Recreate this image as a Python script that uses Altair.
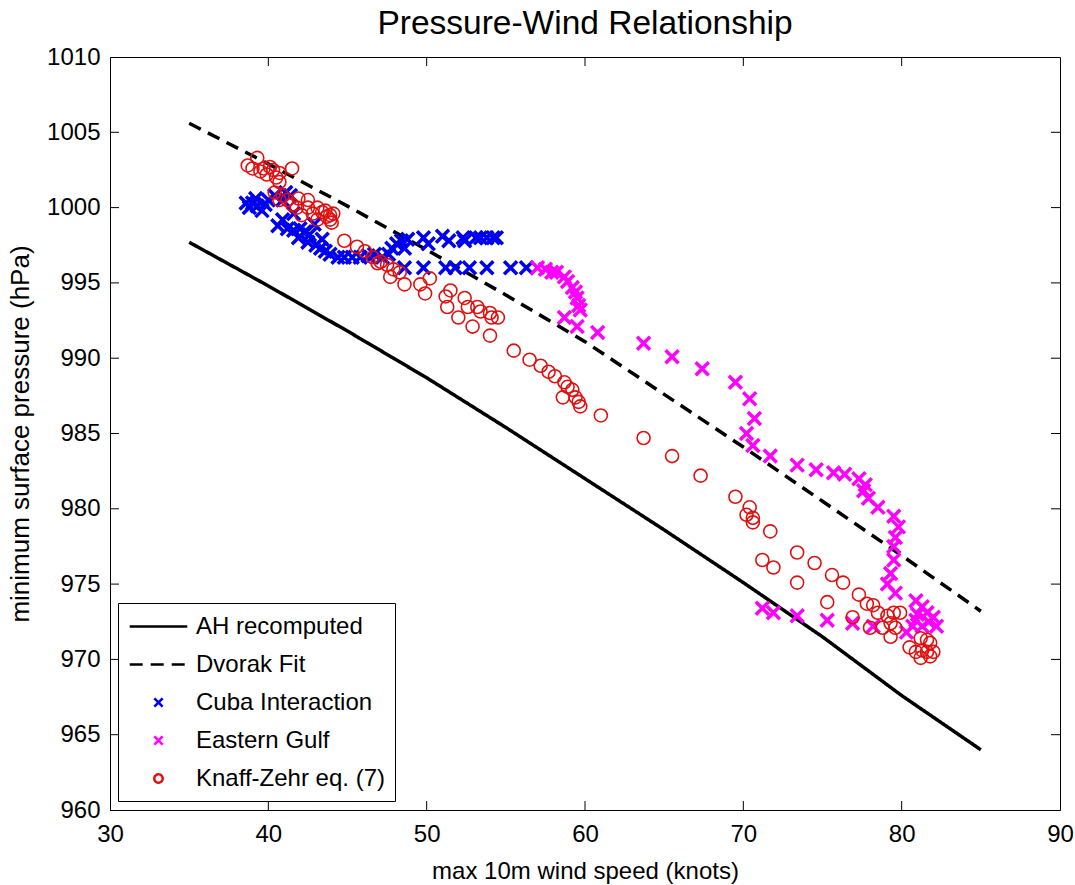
import altair as alt
import pandas as pd

FONT = "Liberation Sans"

# ---------------- data ----------------
series_names = ["AH recomputed", "Dvorak Fit", "Cuba Interaction", "Eastern Gulf", "Knaff-Zehr eq. (7)"]
series_colors = ["#000000", "#000000", "#0000f0", "#ff00ff", "#e01010"]

line_x = [35, 40, 45, 50, 55, 60, 65, 70, 75, 80, 85]
ah_y = [997.7, 994.8, 991.8, 988.7, 985.4, 982.0, 978.6, 975.1, 971.5, 967.6, 964.0]
dvorak_y = [1005.6, 1002.9, 1000.1, 997.2, 994.2, 991.1, 987.6, 984.1, 980.5, 976.9, 973.2]

cuba_x = [38.8, 39.0, 39.2, 39.6, 40.0, 40.4, 40.9, 41.4, 38.6, 39.3, 39.8, 40.6, 40.9, 41.2, 41.6,
          42.0, 42.3, 41.9, 42.5, 43.0, 42.6, 43.3, 43.6, 43.9, 44.4, 44.8, 45.3, 45.8, 46.3, 46.7,
          47.2, 47.6, 47.8, 48.1, 48.4, 48.6, 48.8, 48.6, 49.8, 50.1, 51.0, 51.4, 52.3, 52.4, 53.1,
          53.4, 53.8, 54.2, 54.4, 49.8, 51.2, 51.8, 52.7, 53.8, 55.3, 56.3, 41.1, 41.6, 42.9, 43.4]
cuba_y = [1000.0, 1000.3, 1000.6, 999.8, 1000.5, 1000.8, 1000.5, 1000.8, 1000.3, 1000.1, 1000.2, 998.8, 999.2, 998.6, 998.5,
          998.6, 998.4, 998.0, 997.7, 997.5, 998.2, 997.3, 997.1, 996.9, 996.7, 996.7, 996.7, 996.7, 996.8, 996.9,
          996.7, 996.9, 997.3, 997.6, 997.8, 997.3, 997.9, 996.0, 998.0, 997.6, 998.1, 997.8, 998.0, 997.8, 998.0,
          998.0, 998.0, 998.0, 998.0, 996.0, 996.0, 996.0, 996.0, 996.0, 996.0, 996.0, 1001.0, 999.6, 998.9, 997.9]

gulf_x = [57.0, 57.5, 57.9, 58.2, 58.7, 58.9, 59.2, 59.4, 59.5, 59.6, 59.7, 58.7, 59.5, 60.8, 63.7,
          65.5, 67.4, 69.5, 70.4, 70.7, 70.2, 70.6, 71.7, 73.4, 74.6, 75.7, 76.4, 77.3, 77.7, 77.6,
          77.9, 78.5, 79.5, 79.8, 79.6, 79.5, 79.5, 79.3, 79.1, 79.6, 80.9, 81.3, 81.6, 80.9, 80.7,
          80.3, 81.3, 82.0, 82.2, 81.7, 81.0, 71.2, 71.9, 73.4, 75.3, 76.9, 78.2]
gulf_y = [996.0, 995.9, 995.7, 995.7, 995.4, 995.1, 994.7, 994.4, 994.0, 993.5, 993.2, 992.7, 992.1, 991.7, 991.0,
          990.1, 989.3, 988.4, 987.3, 986.0, 985.0, 984.2, 983.5, 982.9, 982.6, 982.4, 982.3, 982.0, 981.6, 981.2,
          980.7, 980.1, 979.5, 978.8, 978.1, 977.5, 976.6, 975.7, 975.0, 974.4, 973.9, 973.5, 973.1, 972.6, 972.2,
          971.8, 972.2, 972.8, 972.2, 972.5, 973.0, 973.4, 973.1, 972.9, 972.6, 972.4, 972.2]

kz_x = [38.7, 39.0, 39.3, 39.5, 39.7, 39.9, 40.1, 40.3, 40.5, 40.7, 40.7, 41.5, 40.4, 40.9, 40.7,
        41.2, 41.5, 41.8, 41.9, 42.1, 42.5, 42.5, 42.8, 43.1, 43.1, 43.4, 43.6, 43.7, 43.9, 43.9,
        44.1, 44.0, 44.8, 45.6, 46.1, 46.6, 46.9, 47.1, 47.5, 47.9, 48.3, 47.7, 48.6, 49.6, 49.9,
        50.2, 51.2, 51.3, 51.5, 52.0, 52.4, 52.6, 52.9, 53.2, 53.4, 54.0, 54.1, 54.5, 54.0, 55.5,
        56.5, 57.2, 57.7, 58.1, 58.7, 58.9, 59.2, 58.6, 59.4, 59.6, 59.7, 61.0, 63.7, 65.5, 67.3,
        69.5, 70.4, 70.2, 70.6, 70.6, 71.7, 73.4, 74.5, 71.2, 71.9, 73.4, 75.6, 76.3, 75.3, 77.3,
        77.8, 78.2, 78.5, 76.9, 78.0, 79.1, 79.5, 79.9, 79.3, 78.8, 79.6, 79.3, 81.2, 81.6, 81.8,
        80.5, 80.9, 81.3, 81.6, 81.2, 81.8, 82.0]
kz_y = [1002.8, 1002.6, 1003.3, 1002.4, 1002.6, 1002.2, 1002.7, 1002.5, 1002.0, 1002.3, 1001.7, 1002.6, 1001.0, 1000.8, 1000.5,
        1000.5, 1000.2, 1000.0, 1000.6, 999.5, 1000.5, 1000.0, 999.6, 1000.0, 999.2, 999.7, 999.8, 999.4, 999.5, 999.2,
        999.6, 999.0, 997.8, 997.4, 997.1, 996.7, 996.3, 996.4, 996.2, 995.9, 995.7, 995.4, 994.9, 994.9, 994.3,
        995.3, 994.1, 993.4, 994.5, 992.7, 994.0, 993.4, 992.1, 993.4, 993.1, 993.0, 992.7, 992.7, 991.5, 990.5,
        989.9, 989.5, 989.1, 988.8, 988.4, 988.1, 987.9, 987.4, 987.4, 987.1, 986.8, 986.2, 984.7, 983.5, 982.2,
        980.8, 980.1, 979.6, 979.4, 979.1, 978.5, 977.1, 976.4, 976.6, 976.1, 975.1, 975.6, 975.1, 973.8, 974.3,
        973.7, 973.6, 973.1, 972.8, 972.1, 972.9, 973.1, 973.1, 972.4, 972.1, 972.1, 971.5, 971.4, 971.3, 971.1,
        970.8, 970.5, 970.6, 970.5, 970.1, 970.2, 970.5]

x_ticks = [30, 40, 50, 60, 70, 80, 90]
y_ticks = [960, 965, 970, 975, 980, 985, 990, 995, 1000, 1005, 1010]

# ---------------- tables ----------------
lines_df = pd.concat([
    pd.DataFrame({"x": line_x, "y": ah_y, "series": series_names[0]}),
    pd.DataFrame({"x": line_x, "y": dvorak_y, "series": series_names[1]}),
])
cross_df = pd.concat([
    pd.DataFrame({"x": cuba_x, "y": cuba_y, "series": series_names[2]}),
    pd.DataFrame({"x": gulf_x, "y": gulf_y, "series": series_names[3]}),
])
circ_df = pd.DataFrame({"x": kz_x, "y": kz_y, "series": series_names[4]})
xt_df = pd.DataFrame({"x": x_ticks[1:-1]})
yt_df = pd.DataFrame({"y": y_ticks[1:-1]})

W, H = 950, 753

LINE_SYM = "M-2.4,0L2.4,0"
X_SYM = "M-0.35,-0.35L0.35,0.35M0.35,-0.35L-0.35,0.35"
O_SYM = "M0.35,0 A0.35,0.35 0 1 1 -0.35,0 A0.35,0.35 0 1 1 0.35,0 Z"
shapes = [LINE_SYM, LINE_SYM, X_SYM, X_SYM, O_SYM]
dashes = [[1, 0], [13, 8], [1, 0], [1, 0], [1, 0]]

xs = alt.Scale(domain=[30, 90], nice=False, zero=False)
ys = alt.Scale(domain=[960, 1010], nice=False, zero=False)

x_enc = alt.X("x:Q", scale=xs, axis=alt.Axis(
    values=x_ticks, format="d", title="max 10m wind speed (knots)", ticks=False, grid=False,
    labelFontSize=24, titleFontSize=24, labelFont=FONT, titleFont=FONT,
    titleFontWeight="normal", labelColor="black", titleColor="black",
    domainColor="black", labelPadding=12, titlePadding=13, labelFlush=False))
y_enc = alt.Y("y:Q", scale=ys, axis=alt.Axis(
    values=y_ticks, format="d", title="minimum surface pressure (hPa)", ticks=False, grid=False,
    labelFontSize=24, titleFontSize=26, labelFont=FONT, titleFont=FONT,
    titleFontWeight="normal", labelColor="black", titleColor="black",
    domainColor="black", labelPadding=10, titlePadding=13, labelFlush=False))

color_enc = alt.Color("series:N", scale=alt.Scale(domain=series_names, range=series_colors),
                      legend=alt.Legend(title=None))
shape_enc = alt.Shape("series:N", scale=alt.Scale(domain=series_names, range=shapes),
                      legend=alt.Legend(title=None))
dash_enc = alt.StrokeDash("series:N", scale=alt.Scale(domain=series_names, range=dashes),
                          legend=alt.Legend(title=None))

lines = alt.Chart(lines_df).mark_line(strokeWidth=3.5).encode(
    x=x_enc, y=y_enc, color=color_enc, strokeDash=dash_enc, detail="series:N")
crosses = alt.Chart(cross_df).mark_point(filled=False, size=1380, strokeWidth=3.5, opacity=1).encode(
    x="x:Q", y="y:Q", color=color_enc, shape=shape_enc)
circles = alt.Chart(circ_df).mark_point(filled=False, size=1380, strokeWidth=1.6, opacity=1).encode(
    x="x:Q", y="y:Q", color=color_enc, shape=shape_enc)

TL = 9
xt_bot = alt.Chart(xt_df).mark_rule(color="black", strokeWidth=1).encode(
    x="x:Q", y=alt.value(H), y2=alt.value(H - TL))
xt_top = alt.Chart(xt_df).mark_rule(color="black", strokeWidth=1).encode(
    x="x:Q", y=alt.value(0), y2=alt.value(TL))
yt_left = alt.Chart(yt_df).mark_rule(color="black", strokeWidth=1).encode(
    y="y:Q", x=alt.value(0), x2=alt.value(TL))
yt_right = alt.Chart(yt_df).mark_rule(color="black", strokeWidth=1).encode(
    y="y:Q", x=alt.value(W), x2=alt.value(W - TL))

chart = alt.layer(lines, crosses, circles, xt_bot, xt_top, yt_left, yt_right).properties(
    width=W, height=H,
    autosize=alt.AutoSizeParams(type="none"),
    padding={"left": 110, "top": 57, "right": 15, "bottom": 75},
    title=alt.TitleParams("Pressure-Wind Relationship", fontSize=33.5, font=FONT,
                          fontWeight="normal", anchor="middle", offset=4, color="black"),
    background="white",
).configure_view(stroke="black", strokeWidth=1).configure_legend(
    orient="none", legendX=8, legendY=546, strokeColor="black", fillColor="white",
    padding=10, labelFontSize=24, labelFont=FONT, labelColor="black",
    symbolSize=576, symbolStrokeWidth=2.5, rowPadding=12, labelOffset=24,
    symbolOffset=17, labelLimit=400, cornerRadius=0,
)

chart.save("out.html", embed_options={"renderer": "svg", "actions": False})
